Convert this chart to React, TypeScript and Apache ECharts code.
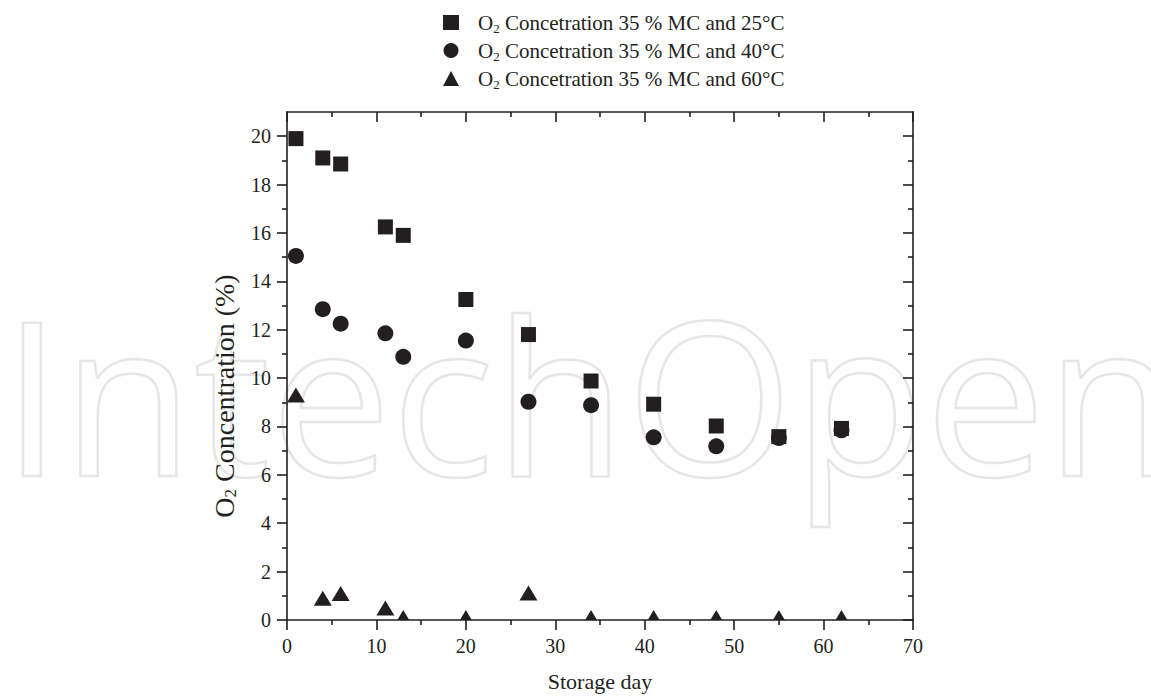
import React, { useEffect, useRef } from "react";
import * as echarts from "echarts";

const days = [1, 4, 6, 11, 13, 20, 27, 34, 41, 48, 55, 62];
const o2At25 = [19.9, 19.1, 18.85, 16.25, 15.9, 13.25, 11.8, 9.88, 8.92, 8.02, 7.58, 7.92];
const o2At40 = [15.05, 12.85, 12.25, 11.85, 10.88, 11.55, 9.02, 8.88, 7.55, 7.18, 7.52, 7.84];
const o2At60 = [9.3, 0.9, 1.1, 0.5, 0.1, 0.1, 1.12, 0.1, 0.1, 0.1, 0.1, 0.1];
const seriesNames = [
  "O2 Concetration 35 % MC and 25°C",
  "O2 Concetration 35 % MC and 40°C",
  "O2 Concetration 35 % MC and 60°C",
];
const yMajorTicks = [0, 2, 4, 6, 8, 10, 12, 14, 16, 18, 20];
const yMinorTicks = [1, 3, 5, 7, 9, 11, 13, 15, 17, 19];

const INK = "#231f20";
const FONT = "'Liberation Serif', 'Times New Roman', serif";

export default function App() {
  const ref = useRef<HTMLDivElement>(null);
  useEffect(() => {
    document.body.style.margin = "0";
    if (!ref.current) return;
    const chart = echarts.init(ref.current, null, { renderer: "svg" });
    const grid = { left: 287, right: 238, top: 112, bottom: 78 };
    const line = { show: true, onZero: false, lineStyle: { color: INK, width: 1.6 } };
    const tickStyle = { color: INK, width: 1.6 };
    const toPairs = (vals: number[]) => days.map((d, i) => [d, vals[i]]);

    chart.setOption({
      animation: false,
      backgroundColor: "#ffffff",
      graphic: [
        {
          type: "text",
          z: -10,
          silent: true,
          x: 2,
          y: 392,
          style: {
            text: "IntechOpen",
            font: "215px 'Open Sans'",
            fill: "none",
            stroke: "#e6e6e6",
            lineWidth: 2.5,
            verticalAlign: "middle",
            align: "left",
          },
        },
      ],
      grid: [grid, grid],
      legend: {
        orient: "vertical",
        left: 438,
        top: 7,
        itemWidth: 16,
        itemHeight: 15,
        itemGap: 5.5,
        selectedMode: false,
        data: [
          { name: seriesNames[0], icon: "rect" },
          { name: seriesNames[1], icon: "circle" },
          { name: seriesNames[2], icon: "triangle" },
        ],
        formatter: (name: string) => `{t|O}{s|2}{t|${name.slice(2)}}`,
        textStyle: {
          color: INK,
          fontFamily: FONT,
          padding: [0, 0, 0, 14],
          rich: {
            t: { fontSize: 21, lineHeight: 24, fontFamily: FONT, color: INK },
            s: { fontSize: 13, lineHeight: 13, verticalAlign: "bottom", fontFamily: FONT, color: INK },
          },
        },
      },
      xAxis: [
        {
          gridIndex: 0,
          type: "value",
          position: "bottom",
          min: 0,
          max: 70,
          interval: 10,
          axisLine: line,
          axisTick: { show: true, inside: false, length: 10, lineStyle: tickStyle },
          minorTick: { show: true, splitNumber: 2, length: 5, lineStyle: tickStyle },
          axisLabel: { fontSize: 20, color: INK, fontFamily: FONT, margin: 16 },
          splitLine: { show: false },
          name: "Storage day",
          nameLocation: "middle",
          nameGap: 50,
          nameTextStyle: { fontSize: 22, color: INK, fontFamily: FONT },
        },
        {
          gridIndex: 0,
          type: "value",
          position: "top",
          min: 0,
          max: 70,
          interval: 10,
          axisLine: line,
          axisTick: { show: true, inside: true, length: 10, lineStyle: tickStyle },
          minorTick: { show: true, splitNumber: 2, length: 5, lineStyle: tickStyle },
          axisLabel: { show: false },
          splitLine: { show: false },
        },
        {
          gridIndex: 1,
          type: "value",
          min: 0,
          max: 70,
          show: false,
          splitLine: { show: false },
        },
      ],
      yAxis: [
        {
          gridIndex: 0,
          type: "value",
          position: "left",
          min: 0,
          max: 21,
          axisLine: line,
          axisTick: { show: true, inside: false, length: 10, customValues: yMajorTicks, lineStyle: tickStyle },
          axisLabel: { fontSize: 20, color: INK, fontFamily: FONT, margin: 16, customValues: yMajorTicks },
          splitLine: { show: false },
          name: "{t|O}{s|2}{t| Concentration (%)}",
          nameLocation: "middle",
          nameGap: 48,
          nameRotate: 90,
          nameTextStyle: {
            color: INK,
            fontFamily: FONT,
            padding: [0, 60, 0, 0],
            rich: {
              t: { fontSize: 28, lineHeight: 30, fontFamily: FONT, color: INK },
              s: { fontSize: 17, lineHeight: 17, verticalAlign: "bottom", fontFamily: FONT, color: INK },
            },
          },
        },
        {
          gridIndex: 0,
          type: "value",
          position: "right",
          min: 0,
          max: 21,
          axisLine: line,
          axisTick: { show: true, inside: true, length: 10, customValues: yMajorTicks, lineStyle: tickStyle },
          axisLabel: { show: false },
          splitLine: { show: false },
        },
        {
          gridIndex: 1,
          type: "value",
          position: "left",
          min: 0,
          max: 21,
          axisLine: { show: false, onZero: false },
          axisTick: { show: true, inside: false, length: 5, customValues: yMinorTicks, lineStyle: tickStyle },
          axisLabel: { show: false },
          splitLine: { show: false },
        },
        {
          gridIndex: 1,
          type: "value",
          position: "right",
          min: 0,
          max: 21,
          axisLine: { show: false, onZero: false },
          axisTick: { show: true, inside: true, length: 5, customValues: yMinorTicks, lineStyle: tickStyle },
          axisLabel: { show: false },
          splitLine: { show: false },
        },
      ],
      series: [
        {
          name: seriesNames[0],
          type: "scatter",
          xAxisIndex: 0,
          yAxisIndex: 0,
          symbol: "rect",
          symbolSize: 15,
          itemStyle: { color: INK, opacity: 1 },
          data: toPairs(o2At25),
          z: 3,
        },
        {
          name: seriesNames[1],
          type: "scatter",
          xAxisIndex: 0,
          yAxisIndex: 0,
          symbol: "circle",
          symbolSize: 16,
          itemStyle: { color: INK, opacity: 1 },
          data: toPairs(o2At40),
          z: 4,
        },
        {
          name: seriesNames[2],
          type: "custom",
          xAxisIndex: 0,
          yAxisIndex: 0,
          clip: true,
          itemStyle: { color: INK, opacity: 1 },
          encode: { x: 0, y: 1 },
          data: toPairs(o2At60),
          z: 5,
          renderItem: (params: any, api: any) => {
            const p = api.coord([api.value(0), api.value(1)]);
            const w = 18;
            const h = 15;
            return {
              type: "polygon",
              shape: {
                points: [
                  [p[0], p[1] - h / 2],
                  [p[0] + w / 2, p[1] + h / 2],
                  [p[0] - w / 2, p[1] + h / 2],
                ],
              },
              style: { fill: INK },
            };
          },
        },
      ],
    });
    return () => chart.dispose();
  }, []);
  return <div ref={ref} style={{ width: 1151, height: 698 }} />;
}
